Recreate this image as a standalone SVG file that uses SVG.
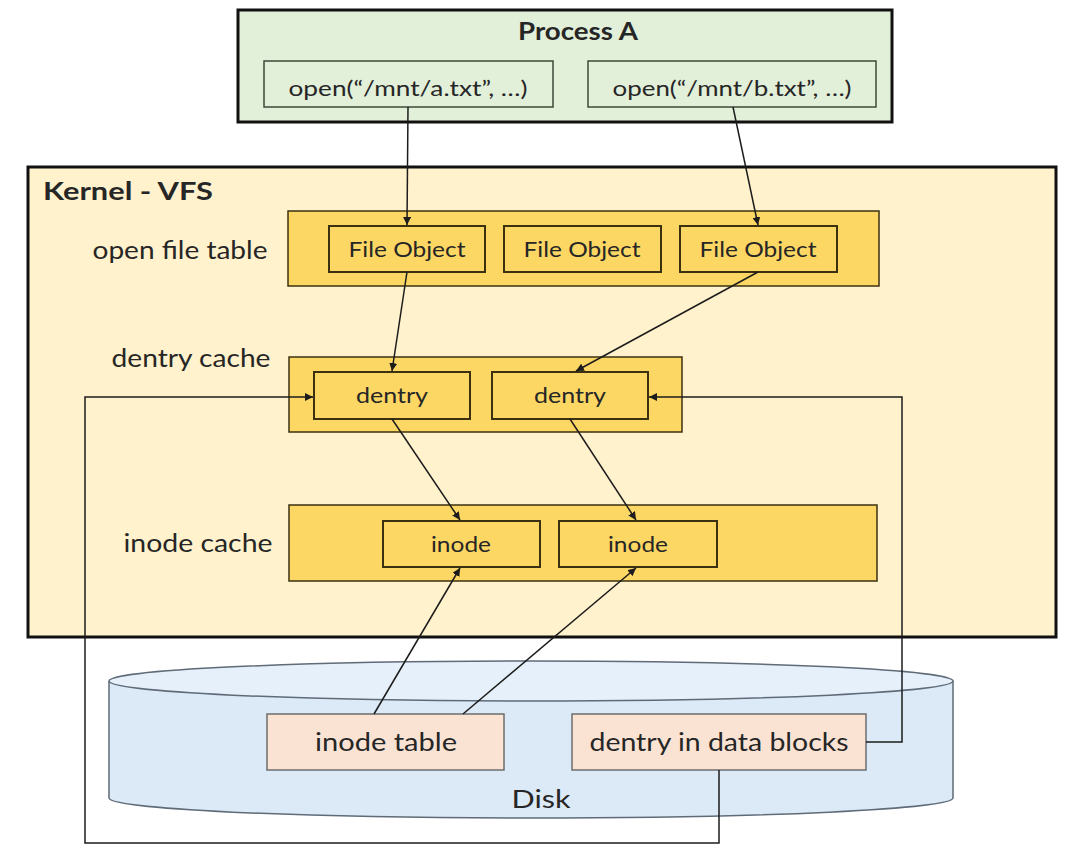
<svg xmlns="http://www.w3.org/2000/svg" width="1080" height="864" viewBox="0 0 1080 864">
<defs>
<style>
text{font-family:Lato,"Liberation Sans",Arial,sans-serif;fill:#262626;text-anchor:middle}
.title{font-weight:bold;font-size:24px}
.lbl{font-size:25px}
.box{font-size:22px}
.big{font-size:25px}
.green{fill:#e2efd9;stroke:#3d4a37;stroke-width:1.5}
.gold{fill:#fdd764;stroke:#3b3010;stroke-width:1.5}
.goldi{fill:#fdd764;stroke:#3b3010;stroke-width:2}
.pink{fill:#fbe3d4;stroke:#6e6e6e;stroke-width:1.5}
.conn{fill:none;stroke:#1c1c1c;stroke-width:1.5}
</style>
<marker id="ah" viewBox="0 0 10 10" refX="10" refY="5" markerWidth="8" markerHeight="8" markerUnits="userSpaceOnUse" orient="auto">
<path d="M0,0 L10,5 L0,10 z" fill="#1c1c1c"/>
</marker>
</defs>
<rect width="1080" height="864" fill="#ffffff"/>

<g id="process-a">
<rect x="238" y="10" width="654" height="112" fill="#e2efd9" stroke="#111" stroke-width="3"/>
<text class="title" x="578" y="40" textLength="120" lengthAdjust="spacingAndGlyphs">Process A</text>
</g>
<g id="open-a">
<rect class="green" x="264" y="61" width="289" height="46"/>
<text class="box" x="408" y="96" textLength="239" lengthAdjust="spacingAndGlyphs">open(“/mnt/a.txt”, …)</text>
</g>
<g id="open-b">
<rect class="green" x="588" y="61" width="288" height="46"/>
<text class="box" x="732" y="96" textLength="239" lengthAdjust="spacingAndGlyphs">open(“/mnt/b.txt”, …)</text>
</g>

<g id="kernel-vfs">
<rect x="28" y="167" width="1028" height="470" fill="#fff2cc" stroke="#111" stroke-width="3"/>
<text class="title" x="128" y="200" textLength="170" lengthAdjust="spacingAndGlyphs">Kernel - VFS</text>
</g>

<g id="open-file-table">
<text class="lbl" x="180" y="259" textLength="175" lengthAdjust="spacingAndGlyphs">open file table</text>
<rect class="gold" x="288" y="211" width="591" height="75"/>
</g>
<g id="file-object-1">
<rect class="goldi" x="329" y="226" width="156" height="46"/>
<text class="box" x="407" y="257" textLength="117" lengthAdjust="spacingAndGlyphs">File Object</text>
</g>
<g id="file-object-2">
<rect class="goldi" x="504" y="226" width="157" height="46"/>
<text class="box" x="582" y="257" textLength="117" lengthAdjust="spacingAndGlyphs">File Object</text>
</g>
<g id="file-object-3">
<rect class="goldi" x="680" y="226" width="157" height="46"/>
<text class="box" x="758" y="257" textLength="117" lengthAdjust="spacingAndGlyphs">File Object</text>
</g>

<g id="dentry-cache">
<text class="lbl" x="191" y="367" textLength="159" lengthAdjust="spacingAndGlyphs">dentry cache</text>
<rect class="gold" x="289" y="357" width="393" height="75"/>
</g>
<g id="dentry-1">
<rect class="goldi" x="314" y="372" width="156" height="47"/>
<text class="box" x="392" y="403" textLength="72" lengthAdjust="spacingAndGlyphs">dentry</text>
</g>
<g id="dentry-2">
<rect class="goldi" x="492" y="372" width="156" height="47"/>
<text class="box" x="570" y="403" textLength="72" lengthAdjust="spacingAndGlyphs">dentry</text>
</g>

<g id="inode-cache">
<text class="lbl" x="198" y="552" textLength="149" lengthAdjust="spacingAndGlyphs">inode cache</text>
<rect class="gold" x="289" y="505" width="588" height="76"/>
</g>
<g id="inode-1">
<rect class="goldi" x="383" y="521" width="157" height="46"/>
<text class="box" x="461" y="552" textLength="60" lengthAdjust="spacingAndGlyphs">inode</text>
</g>
<g id="inode-2">
<rect class="goldi" x="559" y="521" width="158" height="46"/>
<text class="box" x="638" y="552" textLength="60" lengthAdjust="spacingAndGlyphs">inode</text>
</g>

<g id="disk">
<path d="M109,681 L109,798 A422,20 0 0 0 953,798 L953,681" fill="#dce9f6" stroke="#5f6b78" stroke-width="1.5"/>
<ellipse cx="531" cy="681" rx="422" ry="20" fill="#e6f0fa" stroke="#5f6b78" stroke-width="1.5"/>
<text class="big" x="541" y="808" textLength="59" lengthAdjust="spacingAndGlyphs">Disk</text>
</g>
<g id="inode-table">
<rect class="pink" x="267" y="714" width="237" height="56"/>
<text class="big" x="386" y="751" textLength="142" lengthAdjust="spacingAndGlyphs">inode table</text>
</g>
<g id="dentry-data-blocks">
<rect class="pink" x="572" y="714" width="294" height="56"/>
<text class="big" x="719" y="751" textLength="259" lengthAdjust="spacingAndGlyphs">dentry in data blocks</text>
</g>

<g id="connectors">
<line class="conn" x1="408" y1="107" x2="407" y2="225" marker-end="url(#ah)"/>
<line class="conn" x1="733" y1="107" x2="758" y2="225" marker-end="url(#ah)"/>
<line class="conn" x1="407" y1="272" x2="392" y2="371" marker-end="url(#ah)"/>
<line class="conn" x1="758" y1="272" x2="576" y2="371" marker-end="url(#ah)"/>
<line class="conn" x1="392" y1="419" x2="460" y2="520" marker-end="url(#ah)"/>
<line class="conn" x1="570" y1="419" x2="636" y2="520" marker-end="url(#ah)"/>
<line class="conn" x1="374" y1="714" x2="460" y2="568" marker-end="url(#ah)"/>
<line class="conn" x1="463" y1="714" x2="636" y2="568" marker-end="url(#ah)"/>
<polyline class="conn" points="719,770 719,843 85,843 85,397 313,397" marker-end="url(#ah)"/>
<polyline class="conn" points="866,742 902,742 902,397 649,397" marker-end="url(#ah)"/>
</g>
</svg>
